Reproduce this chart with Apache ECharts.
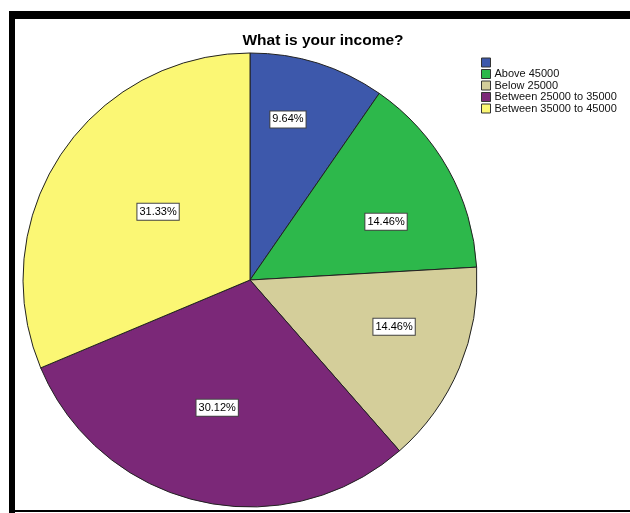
<!DOCTYPE html>
<html>
<head>
<meta charset="utf-8">
<script src="https://cdn.jsdelivr.net/npm/echarts@6/dist/echarts.min.js"></script>
<style>
  html, body { margin: 0; padding: 0; background: #ffffff; }
  #chart { width: 630px; height: 513px; }
</style>
</head>
<body>
<div id="chart"></div>
<script>
// Income groups and their share of respondents (percent)
const categories = ['', 'Above 45000', 'Below 25000', 'Between 25000 to 35000', 'Between 35000 to 45000'];
const percents = [9.64, 14.46, 14.46, 30.12, 31.33];
const colors = ['#3d58ab', '#2db84b', '#d4ce9a', '#7b2878', '#fbf774'];

// Where each percentage box sits: [angle clockwise from 12 o'clock in degrees, distance from centre in px]
const labelPolar = [[13.3, 165], [66.8, 148], [108, 151.5], [194.4, 132], [306.6, 114.5]];

const PIE_CX = 250, PIE_CY = 280, PIE_R = 227;
const names = categories.map(c => c === '' ? ' ' : c);

const chart = echarts.init(document.getElementById('chart'), null, { renderer: 'canvas' });

chart.setOption({
  animation: false,
  backgroundColor: '#ffffff',
  title: {
    text: 'What is your income?',
    left: 323,
    textAlign: 'center',
    top: 33,
    padding: 0,
    textStyle: { fontFamily: 'Liberation Sans, Arial, sans-serif', fontSize: 15.5, fontWeight: 'bold', color: '#000' }
  },
  legend: {
    orient: 'vertical',
    left: 481,
    top: 57,
    padding: 0,
    itemWidth: 9,
    itemHeight: 9,
    itemGap: 0.5,
    icon: 'rect',
    selectedMode: false,
    data: names,
    textStyle: { fontFamily: 'Liberation Sans, Arial, sans-serif', fontSize: 11, lineHeight: 11, color: '#111', padding: [0, 0, 0, -1] },
    itemStyle: { borderColor: '#333', borderWidth: 1 }
  },
  graphic: [
    { type: 'rect', shape: { x: 9, y: 11, width: 621, height: 8 }, style: { fill: '#000' }, silent: true },
    { type: 'rect', shape: { x: 9, y: 11, width: 6, height: 502 }, style: { fill: '#000' }, silent: true },
    { type: 'rect', shape: { x: 9, y: 510, width: 621, height: 2 }, style: { fill: '#000' }, silent: true }
  ],
  series: [{
    type: 'pie',
    center: [PIE_CX, PIE_CY],
    radius: [0, PIE_R],
    startAngle: 90,
    clockwise: true,
    avoidLabelOverlap: false,
    emphasis: { disabled: true },
    itemStyle: { borderColor: '#222', borderWidth: 1 },
    label: {
      show: true,
      position: 'inside',
      formatter: p => p.value.toFixed(2) + '%',
      fontFamily: 'Liberation Sans, Arial, sans-serif',
      fontSize: 11,
      color: '#000',
      backgroundColor: '#fff',
      borderColor: '#444',
      borderWidth: 1,
      padding: [3, 2, 2, 2],
      lineHeight: 11
    },
    labelLine: { show: false },
    labelLayout: function (params) {
      const [deg, dist] = labelPolar[params.dataIndex];
      const a = deg * Math.PI / 180;
      return { x: PIE_CX + dist * Math.sin(a), y: PIE_CY - dist * Math.cos(a), align: 'center', verticalAlign: 'middle' };
    },
    data: names.map((n, i) => ({
      name: n,
      value: percents[i],
      itemStyle: { color: colors[i] }
    }))
  }]
});
</script>
</body>
</html>
